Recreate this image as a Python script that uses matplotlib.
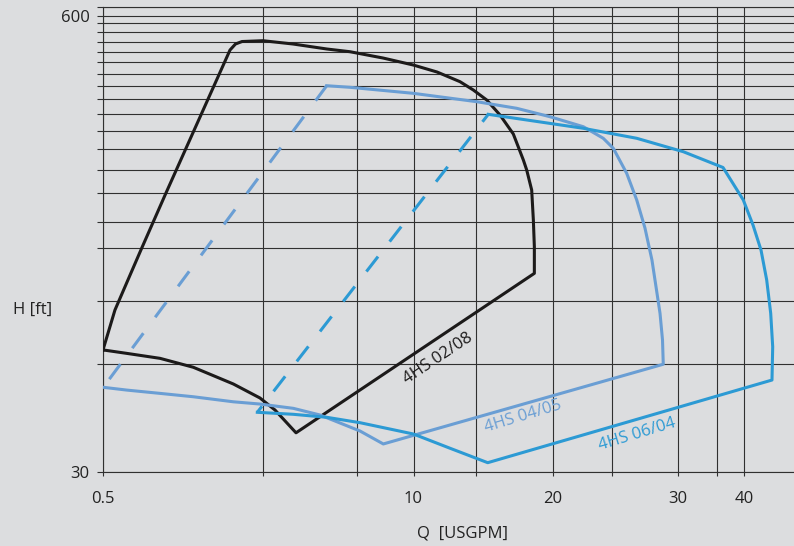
import numpy as np
import matplotlib
matplotlib.use('Agg')
import matplotlib.pyplot as plt
from matplotlib.ticker import NullFormatter

# ---------------- data (Q in USGPM, H in ft) ----------------
x_ticks = [0.5, 10, 20, 30, 40]
x_tick_labels = ['0.5', '10', '20', '30', '40']
y_ticks = [30, 600]
y_tick_labels = ['30', '600']

# 4HS 02/08 (closed envelope)
q_0208 = [0.50, 0.561, 0.636, 0.726, 0.918, 1.275, 1.703, 1.795, 1.912, 2.341, 3.127, 4.341,
          5.419, 7.451, 9.981, 11.24, 12.60, 13.46, 14.39, 15.37, 16.42, 17.26, 17.55, 17.99,
          18.14, 18.23, 18.23, 3.219, 2.628, 2.274, 1.758, 1.195, 0.867, 0.629, 0.50]
h_0208 = [66.8, 86.8, 105.8, 130.3, 187.4, 308.8, 479.7, 499.0, 507.2, 509.9, 499.0, 482.8,
          474.3, 455.1, 434.6, 415.1, 389.5, 368.8, 345.3, 312.9, 276.2, 232.8, 218.0, 191.1,
          156.9, 131.7, 110.5, 38.74, 45.0, 48.7, 53.4, 59.6, 63.2, 65.3, 66.8]

# 4HS 04/05 (solid part + dashed left edge)
q_0405 = [4.328, 5.419, 9.952, 13.69, 16.70, 19.70, 22.07, 23.54, 24.32, 25.40, 26.24, 26.95,
          27.57, 27.98, 28.30, 28.53, 28.60, 7.472, 5.968, 4.057, 3.136, 2.274, 1.758, 1.195,
          0.867, 0.629, 0.501]
h_0405 = [379.3, 375.4, 360.9, 341.5, 327.0, 309.4, 289.7, 268.5, 251.4, 213.3, 179.0, 148.9,
          120.6, 99.0, 85.0, 71.3, 60.8, 36.0, 39.2, 43.55, 45.5, 46.8, 47.5, 49.1,
          50.2, 51.3, 52.25]
q_0405_dash = [4.328, 0.526]
h_0405_dash = [379.3, 54.6]

# 4HS 06/04 (solid part + dashed left edge)
q_0604 = [14.50, 22.07, 26.24, 30.70, 36.45, 39.79, 41.50, 42.96, 44.03, 44.80, 45.19, 45.05,
          14.46, 11.99, 9.981, 5.968, 4.328, 3.136, 2.216]
h_0604 = [314.3, 286.7, 268.5, 245.8, 221.6, 179.0, 151.8, 128.8, 105.8, 85.0, 68.2, 54.8,
          31.83, 35.0, 38.44, 41.4, 42.9, 43.75, 44.33]
q_0604_dash = [14.50, 2.216]
h_0604_dash = [314.3, 44.33]

labels = ['4HS 02/08', '4HS 04/05', '4HS 06/04']
label_q = [11.27, 17.19, 26.24]
label_h = [63.3, 43.1, 38.4]
label_rot = [33.7, 17.0, 17.0]

# grid lines (unlabelled)
x_grid = [2.35, 5.82, 13.64, 24.19, 35.47]
y_grid = [60.8, 92.3, 130.3, 154.9, 186.8, 218.4, 250.2, 282.2, 314.3, 347.6, 379.3,
          409.7, 442.4, 474.3, 506.6, 541.0, 571.7, 636.4]

# ---------------- styling ----------------
BG = '#dcdddf'
GRID = '#303030'
C_BLACK = '#1c1a1a'
C_STEEL = '#6a9ed4'
C_BLUE = '#2c9ad4'
FONT = ['Open Sans', 'DejaVu Sans']
plt.rcParams['font.family'] = FONT

# piecewise-logarithmic Q axis anchored on the labelled ticks
LV = np.log10(x_ticks)
AU = np.array([103.0, 413.5, 553.0, 678.0, 744.5])
S0 = (AU[1] - AU[0]) / (LV[1] - LV[0])
S1 = (AU[-1] - AU[-2]) / (LV[-1] - LV[-2])

def fwd(x):
    x = np.asarray(x, float)
    lx = np.log10(np.clip(x, 1e-9, None))
    u = np.interp(lx, LV, AU)
    u = np.where(lx < LV[0], AU[0] + (lx - LV[0]) * S0, u)
    u = np.where(lx > LV[-1], AU[-1] + (lx - LV[-1]) * S1, u)
    return u

def inv(u):
    u = np.asarray(u, float)
    lx = np.interp(u, AU, LV)
    lx = np.where(u < AU[0], LV[0] + (u - AU[0]) / S0, lx)
    lx = np.where(u > AU[-1], LV[-1] + (u - AU[-1]) / S1, lx)
    return 10 ** lx

W, H = 794, 546
fig = plt.figure(figsize=(W / 100, H / 100), dpi=100, facecolor=BG)
ax = fig.add_axes([103 / W, (H - 471.7) / H, (W - 103) / W, (471.7 - 7) / H])
ax.set_facecolor(BG)
ax.set_xscale('function', functions=(fwd, inv))
ax.set_yscale('log')
ax.set_xlim(0.5, float(inv(794.0)))
ax.set_ylim(30, 636.4)

ax.set_xticks(x_ticks, x_tick_labels)
ax.set_xticks(x_grid, minor=True)
ax.set_yticks(y_ticks, y_tick_labels)
ax.set_yticks(y_grid, minor=True)
ax.yaxis.set_minor_formatter(NullFormatter())
ax.xaxis.set_minor_formatter(NullFormatter())

ax.grid(True, which='both', color=GRID, lw=0.8, zorder=0)
ax.tick_params(axis='both', which='both', direction='out', color=GRID, width=0.8,
               labelsize=12, labelcolor='#222222')
ax.tick_params(axis='x', which='both', length=3.2, pad=11)
ax.tick_params(axis='y', which='both', length=4.3, pad=5.5)
for side in ['left', 'bottom', 'top']:
    ax.spines[side].set_color(GRID)
    ax.spines[side].set_linewidth(0.8)
ax.spines['right'].set_visible(False)

LW = 2.2
ax.plot(q_0208, h_0208, color=C_BLACK, lw=LW, solid_joinstyle='round', zorder=3)
ax.plot(q_0405, h_0405, color=C_STEEL, lw=LW, solid_joinstyle='round', zorder=3)
ax.plot(q_0405_dash, h_0405_dash, color=C_STEEL, lw=LW, linestyle=(0, (6.1, 6.5)),
        dash_capstyle='butt', zorder=3)
ax.plot(q_0604, h_0604, color=C_BLUE, lw=LW, solid_joinstyle='round', zorder=3)
ax.plot(q_0604_dash, h_0604_dash, color=C_BLUE, lw=LW, linestyle=(3.1, (6.2, 6.2)),
        dash_capstyle='butt', zorder=3)

for txt, q, h, r, c in zip(labels, label_q, label_h, label_rot, [C_BLACK, C_STEEL, C_BLUE]):
    ax.text(q, h, txt, rotation=r, rotation_mode='anchor', ha='center', va='center',
            fontsize=12, color=c, zorder=4)

fig.text(13.3 / W, 1 - 310 / H, 'H [ft]', ha='left', va='center', fontsize=12, color='#222222')
fig.text(416.7 / W, 1 - 533.5 / H, 'Q  [USGPM]', ha='left', va='center', fontsize=12, color='#222222')

fig.savefig('out.png', dpi=100, facecolor=BG)
